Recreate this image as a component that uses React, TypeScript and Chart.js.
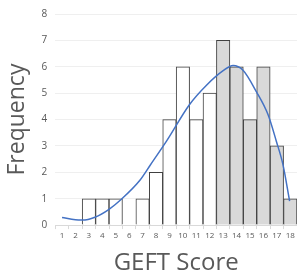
import React, { useEffect, useRef } from "react";
import { Chart, registerables } from "chart.js";

Chart.register(...registerables);

const categories = ["1","2","3","4","5","6","7","8","9","10","11","12","13","14","15","16","17","18"];
const categoryValues = [1, 2, 3, 4, 5, 6, 7, 8, 9, 10, 11, 12, 13, 14, 15, 16, 17, 18];
const frequencies = [0, 0, 1, 1, 1, 0, 1, 2, 4, 6, 4, 5, 7, 6, 4, 6, 3, 1];
const barFills = ["#ffffff","#ffffff","#ffffff","#ffffff","#ffffff","#ffffff","#ffffff","#ffffff","#ffffff","#ffffff","#ffffff","#ffffff","#d9d9d9","#d9d9d9","#d9d9d9","#d9d9d9","#d9d9d9","#d9d9d9"];
const curveX = [1, 2, 2.5, 3.45, 4.5, 5.46, 6.8, 7.54, 8.78, 10.5, 11.76, 13, 13.74, 14.48, 15.47, 16.34, 16.96, 17.45, 17.95];
const curveY = [0.29, 0.2, 0.19, 0.3, 0.6, 1.0, 1.7, 2.25, 3.18, 4.57, 5.3, 5.85, 6.05, 5.87, 5.06, 4.19, 3.18, 2.3, 0.91];

const FONT = "'Open Sans', 'Noto Sans', sans-serif";

function yScale(visible: boolean) {
  const c = visible ? "#595959" : "rgba(0,0,0,0)";
  return {
    min: 0,
    max: 8,
    ticks: { stepSize: 1, color: c, font: { family: FONT, size: 10 }, padding: 8 },
    grid: { color: visible ? "#efefef" : "rgba(0,0,0,0)", drawTicks: false },
    border: { display: false },
    title: { display: true, text: "Frequency", color: c, font: { family: FONT, size: 23 }, padding: { top: 0, bottom: 2 } },
  };
}

function xCommon(visible: boolean) {
  const c = visible ? "#595959" : "rgba(0,0,0,0)";
  return {
    border: { display: true, color: visible ? "#d9d9d9" : "rgba(0,0,0,0)" },
    ticks: { color: c, font: { family: FONT, size: 8 }, padding: 2, maxRotation: 0, minRotation: 0, autoSkip: false },
    title: { display: true, text: "GEFT Score", color: c, font: { family: FONT, size: 24 }, padding: { top: 6.5, bottom: -5 } },
  };
}

const baseOptions = {
  animation: false as const,
  responsive: false,
  maintainAspectRatio: false,
  layout: { padding: { top: 2.5, right: 0, left: 4, bottom: 0 } },
  plugins: { legend: { display: false }, tooltip: { enabled: false } },
};

export default function App() {
  const barRef = useRef<HTMLCanvasElement | null>(null);
  const lineRef = useRef<HTMLCanvasElement | null>(null);
  useEffect(() => {
    if (!barRef.current || !lineRef.current) return;
    const xa = xCommon(true);
    const barChart = new Chart(barRef.current, {
      type: "bar",
      data: {
        labels: categories,
        datasets: [
          {
            data: frequencies,
            backgroundColor: barFills,
            borderColor: "#404040",
            borderWidth: 1,
            categoryPercentage: 1,
            barPercentage: 1,
          },
        ],
      },
      options: {
        ...baseOptions,
        scales: {
          x: {
            type: "category",
            offset: true,
            grid: { display: true, drawOnChartArea: false, offset: true, color: "#d9d9d9", tickLength: 4 },
            ...xa,
          },
          y: yScale(true),
        },
      } as any,
    });

    const xb = xCommon(false);
    const lineChart = new Chart(lineRef.current, {
      type: "line",
      data: {
        datasets: [
          {
            data: curveX.map((x, i) => ({ x, y: curveY[i] })),
            borderColor: "#4472c4",
            borderWidth: 1.5,
            pointRadius: 0,
            cubicInterpolationMode: "monotone",
            fill: false,
          },
        ],
      },
      options: {
        ...baseOptions,
        scales: {
          x: {
            type: "linear",
            min: 0.5,
            max: 18.5,
            offset: false,
            afterBuildTicks: (scale: any) => {
              scale.ticks = categoryValues.map((v) => ({ value: v }));
            },
            grid: { display: true, drawOnChartArea: false, color: "rgba(0,0,0,0)", tickLength: 4 },
            ...xb,
          },
          y: yScale(false),
        },
      } as any,
    });
    return () => {
      barChart.destroy();
      lineChart.destroy();
    };
  }, []);
  return (
    <div style={{ position: "fixed", left: 0, top: 0, width: 297, height: 273, background: "#fff" }}>
      <canvas ref={barRef} width={297} height={273} style={{ position: "absolute", left: 0, top: 0 }} />
      <canvas ref={lineRef} width={297} height={273} style={{ position: "absolute", left: 0, top: 0 }} />
    </div>
  );
}
